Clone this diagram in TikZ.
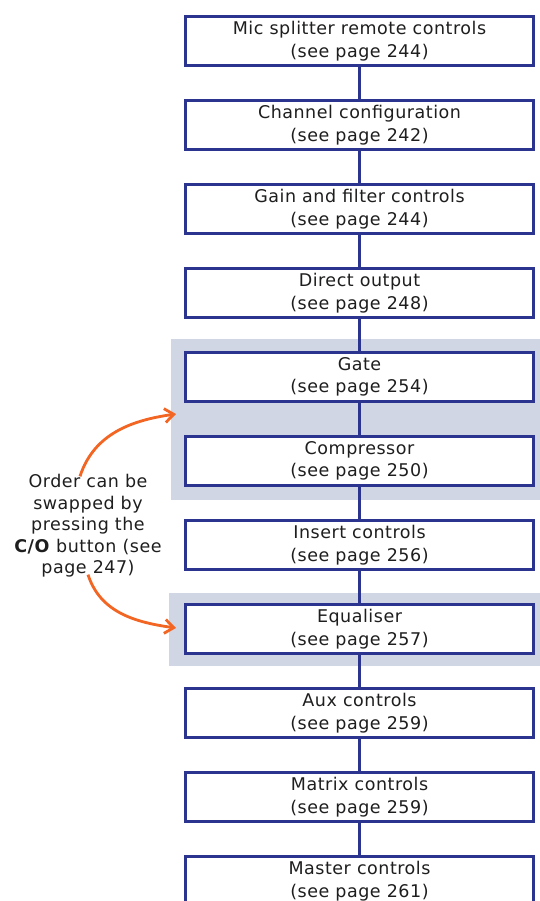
\documentclass[tikz,border=0pt]{standalone}
\usepackage{fontspec}
\setmainfont[LetterSpace=3.0]{DejaVu Sans}
\usetikzlibrary{arrows.meta,positioning,fit,backgrounds}
\definecolor{boxblue}{RGB}{43,52,143}
\definecolor{groupgrey}{RGB}{208,214,227}
\definecolor{swaporange}{RGB}{242,101,34}
\definecolor{inkgrey}{RGB}{30,30,30}

\begin{document}
\begin{tikzpicture}[x=1pt,y=-1pt,font=\fontsize{17.5}{22.5}\selectfont,text=inkgrey,
 block/.style={draw=boxblue,line width=3pt,fill=white,minimum width=348pt,minimum height=49pt,align=center,outer sep=0pt,inner sep=0pt},
 link/.style={boxblue,line width=3pt},
 group/.style={fill=groupgrey,inner xsep=15pt,inner ysep=14pt},
 swap/.style={-{Straight Barb[length=9pt,width=14pt]},swaporange,line width=2.8pt}]
\useasboundingbox (0,0) rectangle (540,901);
\node[block] (splitter) at (359.5,41) {Mic splitter remote controls\\(see page 244)};
\node[block,below=35pt of splitter] (config) {Channel configuration\\(see page 242)};
\node[block,below=35pt of config] (gain) {Gain and filter controls\\(see page 244)};
\node[block,below=35pt of gain] (direct) {Direct output\\(see page 248)};
\node[block,below=35pt of direct] (gate) {Gate\\(see page 254)};
\node[block,below=35pt of gate] (comp) {Compressor\\(see page 250)};
\node[block,below=35pt of comp] (insert) {Insert controls\\(see page 256)};
\node[block,below=35pt of insert] (eq) {Equaliser\\(see page 257)};
\node[block,below=35pt of eq] (aux) {Aux controls\\(see page 259)};
\node[block,below=35pt of aux] (matrix) {Matrix controls\\(see page 259)};
\node[block,below=35pt of matrix] (master) {Master controls\\(see page 261)};
\begin{scope}[on background layer]
\node[group,fit=(gate)(comp)] (dyngroup) {};
\node[group,inner ysep=12pt,inner xsep=17pt,fit=(eq)] (eqgroup) {};
\end{scope}
\foreach \a/\b in {splitter/config,config/gain,gain/direct,direct/gate,gate/comp,comp/insert,insert/eq,eq/aux,aux/matrix,matrix/master}
  \draw[link] (\a) -- (\b);
\node[align=center,inner sep=0pt,font=\fontsize{17.5}{21.5}\selectfont] (note) at (88,526) {Order can be\\swapped by\\pressing the\\\textbf{C/O} button (see\\page 247)};
\coordinate (gatein) at (176,414);
\coordinate (eqin) at (176,628);
\draw[swap] ([xshift=-8pt,yshift=-2pt]note.north) to[out=72,in=188] (gatein);
\draw[swap] ([yshift=3pt]note.south) to[out=-72,in=172] (eqin);
\end{tikzpicture}
\end{document}
